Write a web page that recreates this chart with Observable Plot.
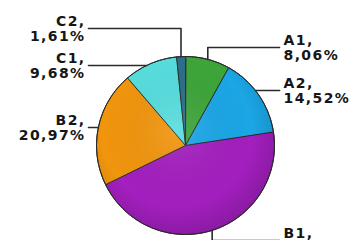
<!DOCTYPE html>
<html><head><meta charset="utf-8">
<script src="https://cdn.jsdelivr.net/npm/d3@7"></script>
<script src="https://cdn.jsdelivr.net/npm/@observablehq/plot@0.6"></script>
<style>body{margin:0;background:#fff}</style>
</head><body><div id="chart"></div>
<script>
// ---- data ----
const categories = ["A1", "A2", "B1", "B2", "C1", "C2"];
const percents = [8.06, 14.52, 45.16, 20.97, 9.68, 1.61];
const labelTexts = ["A1,\n8,06%", "A2,\n14,52%", "B1,\n45,16%", "B2,\n20,97%", "C1,\n9,68%", "C2,\n1,61%"];
const colors = ["#3da53a", "#1ba6e6", "#a31fbf", "#f1950d", "#57dddd", "#2d6e8a"];

// ---- layout (pixels) ----
const W = 355, H = 240, CX = 185, CY = 145, R = 89;
const labelSide = {A1: "right", A2: "right", B1: "right", B2: "left", C1: "left", C2: "left"};
const labelY = {A1: 47, A2: 90, B1: 240, B2: 127, C1: 65, C2: 28};
const leaderKind = {A1: "elbow", A2: "flat", B1: "elbow", B2: "flat", C1: "flat", C2: "elbow"};
const LEFT_TEXT_X = 85, RIGHT_TEXT_X = 283, LEFT_LINE_X = 88, RIGHT_LINE_X = 279;
const toX = px => (px - CX) / R;
const toY = py => (CY - py) / R;

const table = categories.map((c, i) => ({cat: c, value: percents[i], label: labelTexts[i]}));
const arcs = d3.pie().sort(null).value(d => d.value).startAngle(0).endAngle(2 * Math.PI)(table);

// slice polygons
const slicePts = [];
arcs.forEach(a => {
  slicePts.push({cat: a.data.cat, x: 0, y: 0});
  const n = Math.max(2, Math.ceil((a.endAngle - a.startAngle) / (Math.PI / 180)) + 1);
  for (let k = 0; k < n; k++) {
    const t = a.startAngle + (a.endAngle - a.startAngle) * k / (n - 1);
    slicePts.push({cat: a.data.cat, x: Math.sin(t), y: Math.cos(t)});
  }
});

// leader lines
const leaderPts = [];
const textRows = [];
arcs.forEach(a => {
  const c = a.data.cat;
  const m = (a.startAngle + a.endAngle) / 2;
  const side = labelSide[c];
  const ly = toY(labelY[c]);
  const endX = toX(side === "left" ? LEFT_LINE_X : RIGHT_LINE_X);
  let pts;
  if (leaderKind[c] === "elbow") {
    const ex = Math.sin(m), ey = Math.cos(m);
    pts = [[ex, ey], [ex, ly], [endX, ly]];
  } else {
    const bx = Math.sqrt(Math.max(0, 1 - ly * ly)) * (side === "left" ? -1 : 1);
    pts = [[bx, ly], [endX, ly]];
  }
  pts.forEach(p => leaderPts.push({cat: c, x: p[0], y: p[1]}));
  textRows.push({cat: c, side, label: a.data.label,
    x: toX(side === "left" ? LEFT_TEXT_X : RIGHT_TEXT_X), y: ly});
});

const textOpts = {x: "x", y: "y", text: "label", fill: "#161616", fontSize: 14, fontWeight: "bold",
  fontFamily: "DejaVu Sans", lineHeight: 1.08, lineAnchor: "middle"};

const chart = Plot.plot({
  width: W, height: H, margin: 0,
  style: {background: "#fff", letterSpacing: "1.4px"},
  x: {domain: [-1, 1], range: [CX - R, CX + R], axis: null},
  y: {domain: [-1, 1], range: [CY + R, CY - R], axis: null},
  color: {domain: categories, range: colors},
  marks: [
    Plot.line(slicePts, {x: "x", y: "y", z: "cat", fill: "cat", stroke: "#2a2a2a", strokeWidth: 1,
      curve: "linear-closed", strokeLinejoin: "round"}),
    Plot.dot([{x: 0, y: 0}], {x: "x", y: "y", r: R, fill: "url(#pieShade)", stroke: "#2a2a2a", strokeWidth: 1}),
    Plot.line(leaderPts, {x: "x", y: "y", z: "cat", stroke: "#2b2b2b", strokeWidth: 1.6}),
    Plot.text(textRows.filter(d => d.side === "left"), {...textOpts, textAnchor: "end"}),
    Plot.text(textRows.filter(d => d.side === "right"), {...textOpts, textAnchor: "start"})
  ]
});
d3.select(chart).insert("defs", ":first-child").html(
  `<radialGradient id="pieShade" cx="45%" cy="42%" r="60%">
     <stop offset="0%" stop-color="#fff" stop-opacity="0.10"/>
     <stop offset="70%" stop-color="#000" stop-opacity="0"/>
     <stop offset="100%" stop-color="#000" stop-opacity="0.16"/>
   </radialGradient>`);
document.getElementById("chart").append(chart);
</script>
</body></html>
